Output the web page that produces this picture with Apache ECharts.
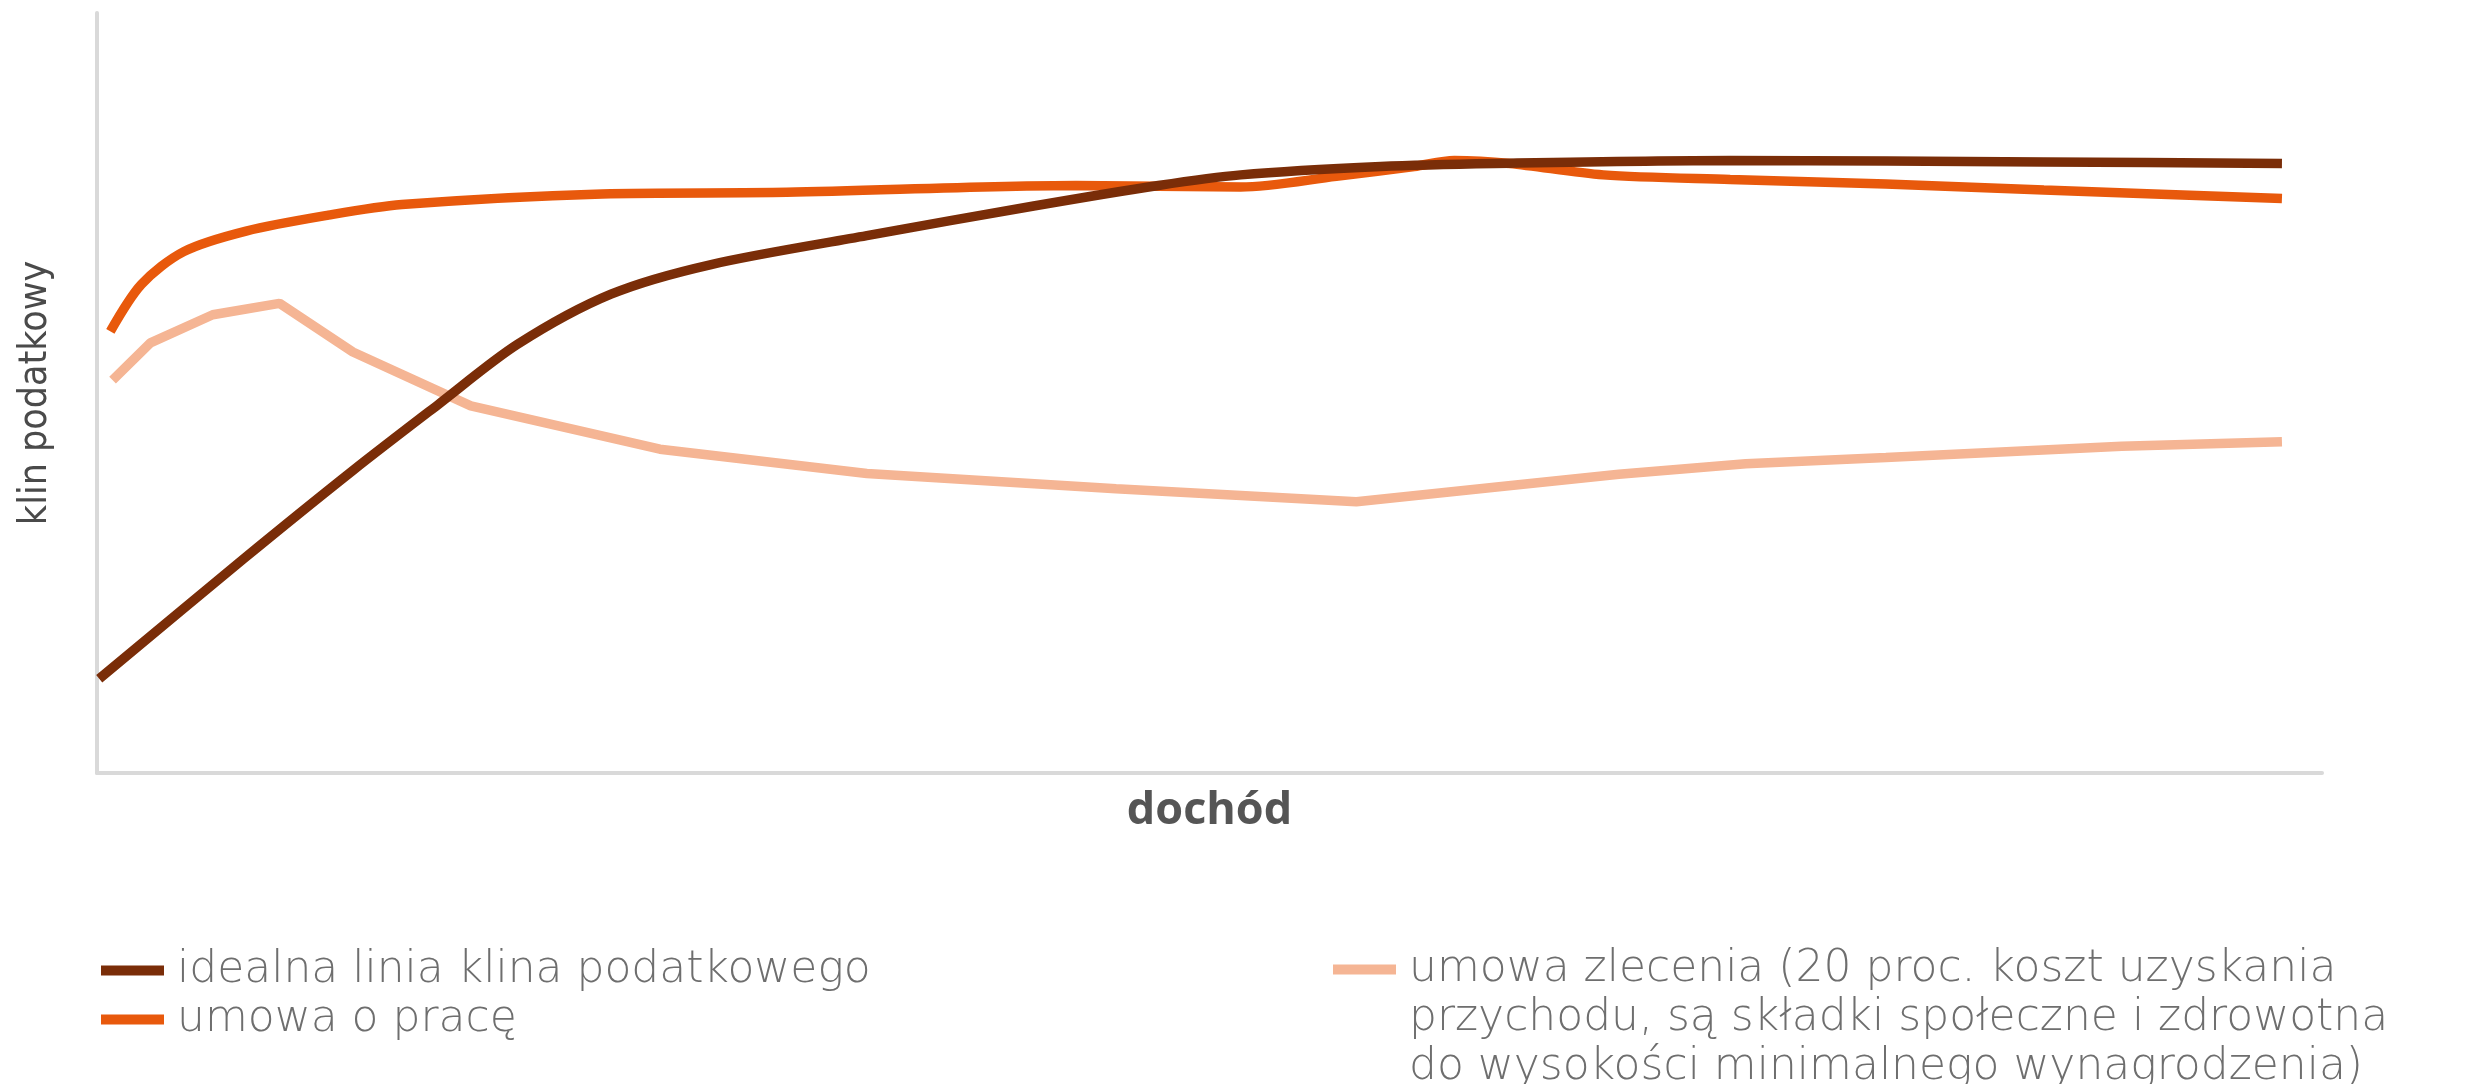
<!DOCTYPE html>
<html>
<head>
<meta charset="utf-8">
<script src="https://cdn.jsdelivr.net/npm/echarts@6/dist/echarts.min.js"></script>
<style>
  html, body { margin: 0; padding: 0; background: #fff; }
  #chart { width: 2465px; height: 1084px; }
</style>
</head>
<body>
<div id="chart"></div>
<script>
// nazwy serii
const seriesNames = [
  "idealna linia klina podatkowego",
  "umowa o pracę",
  "umowa zlecenia (20 proc. koszt uzyskania\nprzychodu, są składki społeczne i zdrowotna\ndo wysokości minimalnego wynagrodzenia)",
];

// dochód (skala umowna 0-100) i klin podatkowy (skala umowna 0-100)
const idealnaX = [0.1, 6.6, 11.5, 15.3, 18.9, 23.1, 27.6, 34.6, 42.1, 47.7, 51.4, 57.7, 62.8, 73.4, 87.5, 98.2];
const idealnaY = [12.4, 28.2, 39.8, 48.4, 56.4, 63.0, 66.9, 70.7, 74.6, 77.3, 78.7, 79.8, 80.2, 80.6, 80.4, 80.2];

const pracaX = [0.6, 2.0, 3.9, 6.7, 10.4, 13.7, 22.7, 31.0, 44.0, 51.4, 55.7, 59.2, 61.0, 63.5, 67.7, 73.4, 80.4, 87.5, 98.2];
const pracaY = [58.1, 64.3, 68.6, 71.3, 73.4, 74.8, 76.2, 76.4, 77.3, 77.1, 78.5, 79.8, 80.6, 80.2, 78.7, 78.1, 77.5, 76.7, 75.6];

const zlecenieX = [0.7, 2.4, 5.2, 8.2, 11.5, 16.8, 25.3, 34.6, 45.8, 56.6, 62.8, 68.4, 74.1, 80.4, 91.0, 98.2];
const zlecenieY = [51.7, 56.6, 60.3, 61.8, 55.4, 48.3, 42.6, 39.4, 37.4, 35.7, 37.6, 39.3, 40.7, 41.5, 43.0, 43.6];

const colors = ["#7a2d08", "#e8590c", "#f5b594"];

const zip = (xs, ys) => xs.map((x, i) => [x, ys[i]]);

const chartInstance = echarts.init(document.getElementById("chart"));

const legendFont = {
  fontFamily: "'DejaVu Sans', sans-serif",
  fontWeight: 200,
  fontSize: 44,
  color: "#6e6e6e",
  lineHeight: 49,
};
const legendText = Object.assign({}, legendFont, {
  rich: { t: Object.assign({}, legendFont, { padding: [0, 0, 0, 8] }) },
});
// kazda linia nazwy w osobnym tokenie
const richName = (name) => name.split("\n").map((s) => `{t|${s}}`).join("\n");

const option = {
  animation: false,
  backgroundColor: "#fff",
  grid: { left: 97, right: 143, top: 13, bottom: 311 },
  legend: [
    {
      data: [seriesNames[0], seriesNames[1]],
      orient: "vertical",
      left: 101,
      top: 946,
      padding: 0,
      itemGap: 0,
      itemWidth: 63,
      itemHeight: 10,
      icon: "rect",
      formatter: richName,
      textStyle: legendText,
    },
    {
      data: [seriesNames[2]],
      orient: "vertical",
      left: 1333,
      top: 847,
      padding: 0,
      itemWidth: 63,
      itemHeight: 10,
      icon: "rect",
      // dwie puste linie, zeby ikona stala przy pierwszej linii tekstu
      formatter: (name) => "{t| }\n{t| }\n" + richName(name),
      textStyle: legendText,
    },
  ],
  xAxis: {
    type: "value",
    min: 0,
    max: 100,
    name: "dochód",
    nameLocation: "middle",
    nameGap: 16,
    nameTextStyle: {
      fontFamily: "'Open Sans', sans-serif",
      fontWeight: "bold",
      fontSize: 45,
      color: "#555",
    },
    axisLine: { lineStyle: { color: "#d9d9d9", width: 4 } },
    axisTick: { show: false },
    axisLabel: { show: false },
    splitLine: { show: false },
  },
  yAxis: {
    type: "value",
    min: 0,
    max: 100,
    name: "klin podatkowy",
    nameLocation: "middle",
    nameRotate: 90,
    nameGap: 42,
    nameTextStyle: {
      fontFamily: "'DejaVu Sans Condensed', sans-serif",
      fontSize: 39,
      color: "#4a4a4a",
    },
    axisLine: { show: true, lineStyle: { color: "#d9d9d9", width: 4 } },
    axisTick: { show: false },
    axisLabel: { show: false },
    splitLine: { show: false },
  },
  series: [
    {
      name: seriesNames[0],
      type: "line",
      data: zip(idealnaX, idealnaY),
      smooth: 0.3,
      showSymbol: false,
      lineStyle: { width: 9.5, color: colors[0] },
      itemStyle: { color: colors[0] },
      z: 4,
    },
    {
      name: seriesNames[1],
      type: "line",
      data: zip(pracaX, pracaY),
      smooth: 0.3,
      showSymbol: false,
      lineStyle: { width: 9.5, color: colors[1] },
      itemStyle: { color: colors[1] },
      z: 3,
    },
    {
      name: seriesNames[2],
      type: "line",
      data: zip(zlecenieX, zlecenieY),
      showSymbol: false,
      lineStyle: { width: 9.5, color: colors[2] },
      itemStyle: { color: colors[2] },
      z: 2,
    },
  ],
};
chartInstance.setOption(option);
</script>
</body>
</html>
